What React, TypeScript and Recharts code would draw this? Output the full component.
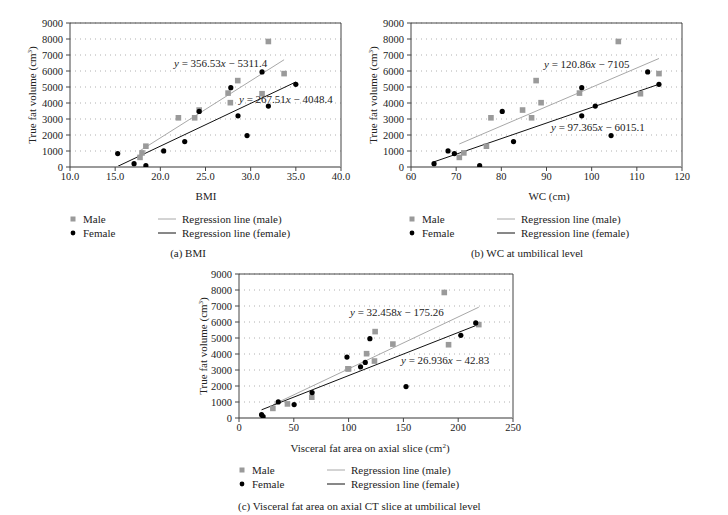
import { ScatterChart, Scatter, XAxis, YAxis, CartesianGrid, ReferenceLine } from 'recharts'

// true fat volume (cm3), sorted
const maleVol = [600, 880, 1300, 3075, 3075, 3560, 4020, 4580, 4620, 5400, 5837, 7845]
const femaleVol = [84, 209, 837, 1004, 1590, 1967, 3200, 3473, 3808, 4958, 5167, 5941]

// x values per panel, same order as volumes
const maleBmi = [17.75, 17.97, 18.4, 22.0, 23.8, 24.3, 27.75, 31.26, 27.5, 28.57, 33.7, 31.96]
const femaleBmi = [18.4, 17.09, 15.28, 20.37, 22.7, 29.6, 28.6, 24.3, 31.96, 27.8, 35.0, 31.26]
const maleWc = [70.7, 71.7, 76.7, 77.7, 86.7, 84.7, 88.8, 110.8, 97.3, 87.7, 114.9, 105.9]
const femaleWc = [75.2, 65.1, 69.6, 68.2, 82.7, 104.3, 97.8, 80.2, 100.8, 97.8, 114.9, 112.4]
const maleVfa = [30.9, 44.2, 66.4, 99.4, 100, 123.6, 116.4, 191.2, 140.4, 124.2, 218.8, 187.3]
const femaleVfa = [22, 20.6, 50.3, 35.8, 66.7, 152.4, 110.9, 115.2, 98.5, 119.4, 202.4, 216]

// regression coefficients [slope, intercept]
const maleFit = { a: [356.53, -5311.4], b: [120.86, -7105], c: [32.458, -175.26] }
const femaleFit = { a: [267.51, -4048.4], b: [97.365, -6015.1], c: [26.936, -42.83] }

const yTicks = [0, 1000, 2000, 3000, 4000, 5000, 6000, 7000, 8000, 9000]
const bmiTicks = [10, 15, 20, 25, 30, 35, 40]
const wcTicks = [60, 70, 80, 90, 100, 110, 120]
const vfaTicks = [0, 50, 100, 150, 200, 250]

const FONT = '"Liberation Serif", "DejaVu Serif", serif'

const zip = (xs: number[], ys: number[]) => xs.map((x, i) => ({ x, y: ys[i] }))

const segment = (xs: number[], fit: number[]) => {
  const lo = Math.min(...xs)
  const hi = Math.max(...xs)
  return [
    { x: lo, y: fit[0] * lo + fit[1] },
    { x: hi, y: fit[0] * hi + fit[1] },
  ]
}

const Square = (p: any) => <rect x={p.cx - 2.8} y={p.cy - 2.8} width={5.6} height={5.6} fill="#9a9a9a" />
const Dot = (p: any) => <circle cx={p.cx} cy={p.cy} r={2.6} fill="#000" />

interface PanelProps {
  left: number
  top: number
  yWidth: number
  marginTop: number
  marginRight: number
  marginBottom: number
  domain: [number, number]
  ticks: number[]
  fmt: (v: number) => string
  male: { x: number; y: number }[]
  female: { x: number; y: number }[]
  maleX: number[]
  femaleX: number[]
  mFit: number[]
  fFit: number[]
}

function Panel(p: PanelProps) {
  const tickStyle = { fontSize: 10.5, fill: '#222', fontFamily: FONT }
  return (
    <div style={{ position: 'absolute', left: p.left, top: p.top }}>
      <ScatterChart
        width={364}
        height={200}
        margin={{ top: p.marginTop, right: p.marginRight, bottom: p.marginBottom, left: 0 }}
      >
        <CartesianGrid vertical={false} stroke="#b0b0b0" strokeDasharray="1 4" />
        <XAxis
          type="number"
          dataKey="x"
          domain={p.domain}
          ticks={p.ticks}
          tickFormatter={p.fmt}
          interval={0}
          allowDataOverflow
          height={20}
          tickSize={4}
          tickMargin={2}
          tick={tickStyle}
          axisLine={{ stroke: '#9a9a9a', strokeWidth: 2 }}
          tickLine={{ stroke: '#444' }}
        />
        <YAxis
          type="number"
          dataKey="y"
          domain={[0, 9000]}
          ticks={yTicks}
          interval={0}
          allowDataOverflow
          width={p.yWidth}
          tickSize={4}
          tickMargin={3}
          tick={tickStyle}
          axisLine={{ stroke: '#444' }}
          tickLine={{ stroke: '#444' }}
        />
        <ReferenceLine y={9000} stroke="#444" />
        <ReferenceLine x={p.domain[1]} stroke="#444" />
        <Scatter data={p.male} shape={Square} isAnimationActive={false} />
        <Scatter data={p.female} shape={Dot} isAnimationActive={false} />
        <ReferenceLine segment={segment(p.maleX, p.mFit)} stroke="#a8a8a8" strokeWidth={1} ifOverflow="visible" />
        <ReferenceLine segment={segment(p.femaleX, p.fFit)} stroke="#111" strokeWidth={1} ifOverflow="visible" />
      </ScatterChart>
    </div>
  )
}

function Eq({ x, y, a, b }: { x: number; y: number; a: string; b: string }) {
  return (
    <text x={x} y={y} fontSize={11} fill="#222">
      <tspan fontStyle="italic">y</tspan> = {a}
      <tspan fontStyle="italic">x</tspan> − {b}
    </text>
  )
}

function YTitle({ x, y }: { x: number; y: number }) {
  return (
    <text transform={`translate(${x},${y}) rotate(-90)`} textAnchor="middle" fontSize={11} fill="#222">
      True fat volume (cm<tspan dy={-4} fontSize={7}>3</tspan><tspan dy={4}>)</tspan>
    </text>
  )
}

function Legend({ x1, x2, y }: { x1: number; x2: number; y: number }) {
  return (
    <g fontSize={11} fill="#222">
      <rect x={x1 - 2.5} y={y - 2.5} width={5} height={5} fill="#9a9a9a" />
      <text x={x1 + 10} y={y + 4}>Male</text>
      <circle cx={x1} cy={y + 14} r={2.4} fill="#000" />
      <text x={x1 + 10} y={y + 18}>Female</text>
      <line x1={x2} x2={x2 + 18} y1={y} y2={y} stroke="#a8a8a8" />
      <text x={x2 + 24} y={y + 4}>Regression line (male)</text>
      <line x1={x2} x2={x2 + 18} y1={y + 14} y2={y + 14} stroke="#111" />
      <text x={x2 + 24} y={y + 18}>Regression line (female)</text>
    </g>
  )
}

export default function App() {
  return (
    <div style={{ position: 'absolute', left: 0, top: 0, width: 728, height: 515, background: '#fff', fontFamily: FONT }}>
      <Panel
        left={0} top={0} yWidth={70} marginTop={23} marginRight={23} marginBottom={13}
        domain={[10, 40]} ticks={bmiTicks} fmt={v => v.toFixed(1)}
        male={zip(maleBmi, maleVol)} female={zip(femaleBmi, femaleVol)}
        maleX={maleBmi} femaleX={femaleBmi} mFit={maleFit.a} fFit={femaleFit.a}
      />
      <Panel
        left={364} top={0} yWidth={47} marginTop={23} marginRight={46} marginBottom={13}
        domain={[60, 120]} ticks={wcTicks} fmt={v => String(v)}
        male={zip(maleWc, maleVol)} female={zip(femaleWc, femaleVol)}
        maleX={maleWc} femaleX={femaleWc} mFit={maleFit.b} fFit={femaleFit.b}
      />
      <Panel
        left={180} top={240} yWidth={59} marginTop={34} marginRight={31} marginBottom={2}
        domain={[0, 250]} ticks={vfaTicks} fmt={v => String(v)}
        male={zip(maleVfa, maleVol)} female={zip(femaleVfa, femaleVol)}
        maleX={maleVfa} femaleX={femaleVfa} mFit={maleFit.c} fFit={femaleFit.c}
      />
      <svg width={728} height={515} style={{ position: 'absolute', left: 0, top: 0, pointerEvents: 'none' }} fontFamily={FONT}>
        <Eq x={174} y={67} a="356.53" b="5311.4" />
        <Eq x={239} y={103} a="267.51" b="4048.4" />
        <Eq x={544} y={68} a="120.86" b="7105" />
        <Eq x={551} y={131} a="97.365" b="6015.1" />
        <Eq x={350} y={316} a="32.458" b="175.26" />
        <Eq x={401} y={364} a="26.936" b="42.83" />

        <YTitle x={36} y={95} />
        <YTitle x={377} y={95} />
        <YTitle x={207} y={346} />

        <g fontSize={11} fill="#222" textAnchor="middle">
          <text x={206} y={200}>BMI</text>
          <text x={549} y={200}>WC (cm)</text>
          <text x={370} y={452}>
            Visceral fat area on axial slice (cm<tspan dy={-4} fontSize={7}>2</tspan><tspan dy={4}>)</tspan>
          </text>
          <text x={188} y={257}>(a)  BMI</text>
          <text x={527} y={257}>(b)  WC at umbilical level</text>
        </g>
        <text x={238} y={510} fontSize={11} fill="#222">(c)  Visceral fat area on axial CT slice at umbilical level</text>

        <Legend x1={73} x2={158} y={219} />
        <Legend x1={412} x2={497} y={219} />
        <Legend x1={242} x2={327} y={470} />
      </svg>
    </div>
  )
}
